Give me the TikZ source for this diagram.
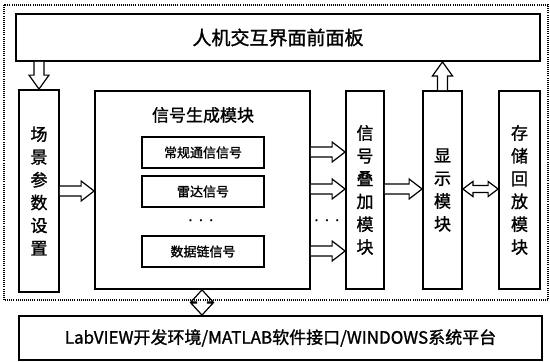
\documentclass[tikz,border=0pt]{standalone}
\usepackage{fontspec}
\setmainfont{Noto Sans CJK SC}[FakeBold=1.3]
\newfontfamily\dotfont{DejaVu Sans}
\usetikzlibrary{calc}

\tikzset{
  box/.style={draw, line width=1.8pt, inner sep=0pt},
  vbox/.style={box, align=center, font=\fontsize{17}{22.8}\selectfont},
  subbox/.style={draw, line width=1.2pt, inner sep=0pt, minimum width=122pt, minimum height=31pt, font=\fontsize{13}{13}\selectfont},
  dotsnode/.style={inner sep=0pt, font=\dotfont\fontsize{7.5}{7.5}\selectfont},
  harr/.style={line width=1.2pt, fill=white, line join=miter},
  frameline/.style={line width=1.3pt, dash pattern=on 1pt off 1.1pt}
}

% single hollow arrow: from #1 to #2, shaft half width #3, head half width #4, head length #5
\newcommand\sarrow[5]{%
  \coordinate (aA) at (#1); \coordinate (aB) at (#2);
  \coordinate (aC) at ($(aB)!#5!(aA)$);
  \draw[harr] ($(aA)!#3!90:(aB)$) -- ($(aC)!#3!-90:(aA)$) -- ($(aC)!#4!-90:(aA)$) -- (aB)
     -- ($(aC)!#4!90:(aA)$) -- ($(aC)!#3!90:(aA)$) -- ($(aA)!#3!-90:(aB)$);
}
% double hollow arrow
\newcommand\darrow[5]{%
  \coordinate (aA) at (#1); \coordinate (aB) at (#2);
  \coordinate (aC) at ($(aA)!#5!(aB)$);
  \coordinate (aD) at ($(aB)!#5!(aA)$);
  \draw[harr] (aA) -- ($(aC)!#4!90:(aB)$) -- ($(aC)!#3!90:(aB)$) -- ($(aD)!#3!-90:(aA)$)
     -- ($(aD)!#4!-90:(aA)$) -- (aB) -- ($(aD)!#4!90:(aA)$) -- ($(aD)!#3!90:(aA)$)
     -- ($(aC)!#3!-90:(aB)$) -- ($(aC)!#4!-90:(aB)$) -- cycle;
}

\begin{document}
\begin{tikzpicture}[x=1pt,y=-1pt]
\useasboundingbox (0,0) rectangle (550,362);

\node[box, minimum width=524pt, minimum height=47pt, font=\fontsize{19}{19}\selectfont] (hmi) at (278,37.5) {人机交互界面前面板};

\node[vbox, minimum width=40pt, minimum height=202pt] (scene) at (39,191) {场\\景\\参\\数\\设\\置};

\node[box, minimum width=215pt, minimum height=198pt] (gen) at (202.5,190) {};
\node[font=\fontsize{17}{17}\selectfont, inner sep=0pt] (gentitle) at (203,115) {信号生成模块};
\node[subbox] (s1) at (203,152.5) {常规通信信号};
\node[subbox] (s2) at (203,191.5) {雷达信号};
\node[dotsnode] (sdots) at (201,222) {•\hspace{6pt}•\hspace{6pt}•};
\node[subbox] (s3) at (203,251.5) {数据链信号};

\node[vbox, minimum width=38pt, minimum height=198pt] (add) at (365,190) {信\\号\\叠\\加\\模\\块};
\node[vbox, minimum width=39pt, minimum height=198pt] (disp) at (442.5,190) {显\\示\\模\\块};
\node[vbox, minimum width=41pt, minimum height=198pt] (store) at (519.5,190) {存\\储\\回\\放\\模\\块};

\node[box, minimum width=523pt, minimum height=44pt, font=\fontsize{17}{17}\selectfont] (plat) at (280.5,338) {LabVIEW开发环境/MATLAB软件接口/WINDOWS系统平台};

\node[dotsnode] (adots) at (327,222) {•\hspace{6pt}•\hspace{6pt}•};

% arrows
\sarrow{hmi.south -| scene.north}{scene.north}{5pt}{10pt}{14pt}
\sarrow{disp.north}{hmi.south -| disp.north}{5pt}{10pt}{14pt}
\sarrow{scene.east |- 0,191}{gen.west |- 0,191}{5pt}{10pt}{13pt}
\sarrow{gen.east |- 0,152}{add.west |- 0,152}{5pt}{10pt}{13pt}
\sarrow{gen.east |- 0,189}{add.west |- 0,189}{5pt}{10pt}{13pt}
\sarrow{gen.east |- 0,251}{add.west |- 0,251}{5pt}{10pt}{13pt}
\sarrow{add.east |- 0,189}{disp.west |- 0,189}{5pt}{10pt}{13pt}
\darrow{disp.east |- 0,189}{store.west |- 0,189}{3.5pt}{7.5pt}{10pt}
\coordinate (bx) at (202,0);
\darrow{gen.south -| bx}{plat.north -| bx}{5.5pt}{11pt}{12pt}

% dotted frame
\draw[frameline] (4,5) rectangle (548,300);
\end{tikzpicture}
\end{document}
